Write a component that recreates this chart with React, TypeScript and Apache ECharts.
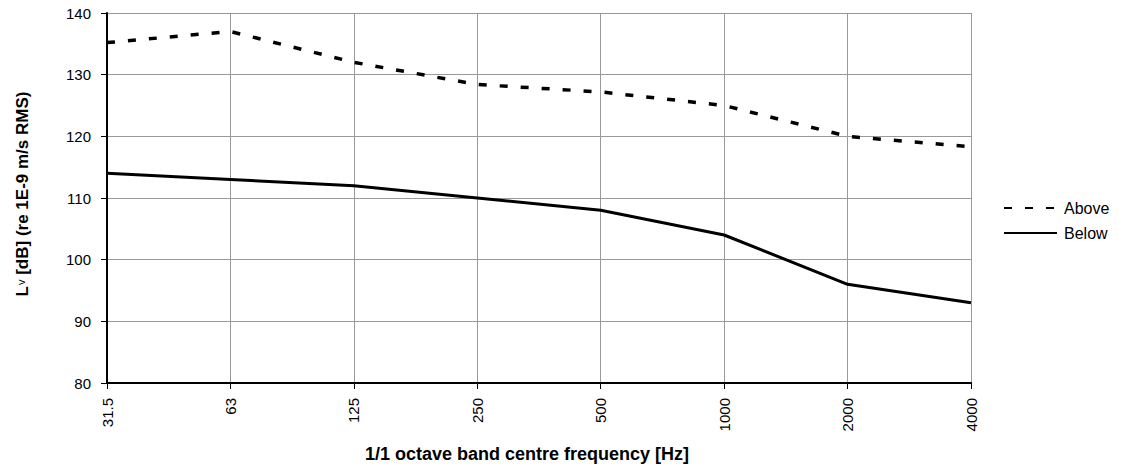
import React, { useEffect, useRef } from "react";
import * as echarts from "echarts";

const categories = ["31.5", "63", "125", "250", "500", "1000", "2000", "4000"];
const aboveValues = [135.2, 137, 132, 128.4, 127.2, 125, 120, 118.3];
const belowValues = [114, 113, 112, 110, 108, 104, 96, 93];
const yTicks = { min: 80, max: 140, interval: 10 };

const FONT = "'Liberation Sans', Arial, sans-serif";

export default function App() {
  const ref = useRef<HTMLDivElement>(null);
  useEffect(() => {
    if (!ref.current) return;
    const chart = echarts.init(ref.current, null, { renderer: "svg" });
    chart.setOption({
      animation: false,
      backgroundColor: "#ffffff",
      textStyle: { fontFamily: FONT },
      grid: { left: 107, right: 154, top: 13, bottom: 87, containLabel: false },
      legend: {
        orient: "vertical",
        left: 998,
        top: 195,
        itemWidth: 53,
        itemHeight: 16,
        itemGap: 9,
        itemStyle: { opacity: 0 },
        textStyle: {
          fontFamily: FONT,
          fontSize: 16,
          color: "#000",
          padding: [0, 0, 0, 2],
        },
        data: ["Above", "Below"],
      },
      xAxis: {
        type: "category",
        data: categories,
        boundaryGap: false,
        name: "1/1 octave band centre frequency [Hz]",
        nameLocation: "middle",
        nameGap: 62,
        nameTextStyle: {
          fontFamily: FONT,
          fontSize: 18,
          fontWeight: "bold",
          color: "#000",
          padding: [0, 24, 0, 0],
        },
        axisLine: { lineStyle: { color: "#000", width: 2 } },
        axisTick: { show: true, inside: false, length: 6, lineStyle: { color: "#000", width: 1 }, alignWithLabel: true },
        axisLabel: { rotate: 90, fontFamily: FONT, fontSize: 15, color: "#000", margin: 15, interval: 0 },
        splitLine: { show: true, lineStyle: { color: "#999", width: 1 } },
      },
      yAxis: {
        type: "value",
        min: yTicks.min,
        max: yTicks.max,
        interval: yTicks.interval,
        name: "{n|L}{s|v}{n| [dB] (re 1E-9 m/s RMS)}",
        nameLocation: "middle",
        nameRotate: 90,
        nameGap: 76,
        nameTextStyle: {
          padding: [0, 0, 0, 8],
          rich: {
            n: { fontFamily: FONT, fontSize: 17, fontWeight: "bold", color: "#000" },
            s: { fontFamily: FONT, fontSize: 11, color: "#000", padding: [0, 0, 4, 1] },
          },
        },
        axisLine: { show: true, lineStyle: { color: "#000", width: 2 } },
        axisTick: { show: true, inside: false, length: 6, lineStyle: { color: "#000", width: 1 } },
        axisLabel: { fontFamily: FONT, fontSize: 15, color: "#000", margin: 16 },
        splitLine: { show: true, lineStyle: { color: "#999", width: 1 } },
      },
      series: [
        {
          name: "Above",
          type: "line",
          data: aboveValues,
          showSymbol: false,
          symbol: "none",
          lineStyle: { color: "#000", width: 3.5, type: [8, 13], cap: "butt" },
          itemStyle: { color: "#000" },
        },
        {
          name: "Below",
          type: "line",
          data: belowValues,
          showSymbol: false,
          symbol: "none",
          lineStyle: { color: "#000", width: 3, type: "solid" },
          itemStyle: { color: "#000" },
        },
      ],
    });
    return () => chart.dispose();
  }, []);
  return <div ref={ref} style={{ width: 1125, height: 470, position: "absolute", left: 0, top: 0 }} />;
}
